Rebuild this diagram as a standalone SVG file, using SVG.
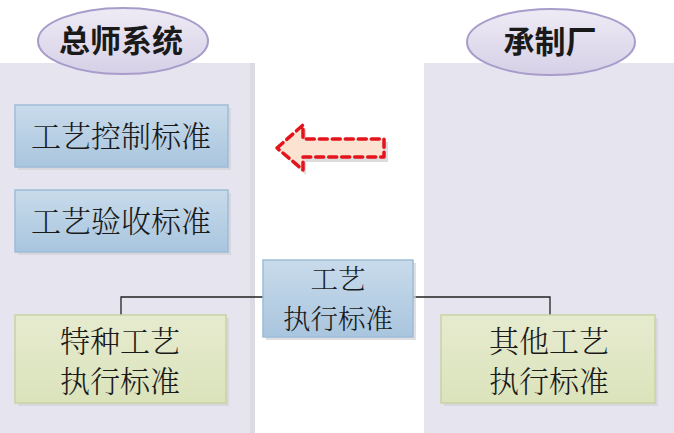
<svg xmlns="http://www.w3.org/2000/svg" width="674" height="433" viewBox="0 0 674 433">
<defs>
<linearGradient id="gBlue" x1="0" y1="0" x2="0" y2="1"><stop offset="0" stop-color="#c8dbeb"/><stop offset="1" stop-color="#a9c5de"/></linearGradient>
<linearGradient id="gGreen" x1="0" y1="0" x2="0" y2="1"><stop offset="0" stop-color="#e6ebcf"/><stop offset="1" stop-color="#dbe3bb"/></linearGradient>
<linearGradient id="gEll" x1="0" y1="0" x2="0" y2="1"><stop offset="0" stop-color="#eeebf5"/><stop offset="1" stop-color="#d6d0e6"/></linearGradient>
<style>
.panel{fill:#e6e4ef}
.pshadow{fill:#dcdae3}
.shadow{fill:#d2d2d6;opacity:0.7}
.blue{fill:url(#gBlue);stroke:#9ebcd8;stroke-width:1.5}
.green{fill:url(#gGreen);stroke:#c8d3a3;stroke-width:1.5}
.ell{fill:url(#gEll);stroke:#a89ccb;stroke-width:2}
.title{font-family:"Noto Sans CJK SC","Liberation Sans",sans-serif;font-weight:bold;font-size:31px;fill:#1a1a1a;text-anchor:middle}
.lbl{font-family:"Noto Serif CJK SC","Liberation Serif","Noto Sans CJK SC",serif;font-weight:300;font-size:30px;fill:#1a1a1a;text-anchor:middle}
.sm{font-size:27.5px}
.conn{fill:none;stroke:#222;stroke-width:1.3}
</style>
</defs>
<g id="panels">
<rect class="pshadow" x="0" y="63" width="255" height="370"/>
<rect class="panel" x="0" y="63" width="250" height="370"/>
<rect class="pshadow" x="424" y="63" width="250" height="370"/>
<rect class="panel" x="424" y="63" width="250" height="370"/>
</g>
<g id="title-left">
<ellipse class="ell" cx="123" cy="41" rx="85" ry="33"/>
<text class="title" x="121" y="52">总师系统</text>
</g>
<g id="title-right">
<ellipse class="ell" cx="551" cy="42" rx="84" ry="33"/>
<text class="title" x="550" y="53">承制厂</text>
</g>
<g id="connectors">
<polyline class="conn" points="263,297 121,297 121,316"/>
<polyline class="conn" points="413,297 550,297 550,316"/>
</g>
<g id="box-control">
<rect class="shadow" x="18" y="108" width="213" height="62"/>
<rect class="blue" x="15" y="105" width="213" height="62"/>
<text class="lbl" x="121" y="147">工艺控制标准</text>
</g>
<g id="box-accept">
<rect class="shadow" x="18" y="193" width="213" height="62"/>
<rect class="blue" x="15" y="190" width="213" height="62"/>
<text class="lbl" x="121" y="232">工艺验收标准</text>
</g>
<g id="box-exec">
<rect class="shadow" x="266" y="263" width="150" height="77"/>
<rect class="blue" x="263" y="260" width="150" height="77"/>
<text class="lbl sm" x="338" y="289">工艺</text>
<text class="lbl sm" x="338" y="329">执行标准</text>
</g>
<g id="box-special">
<rect class="shadow" x="18" y="318" width="211" height="88"/>
<rect class="green" x="15" y="315" width="211" height="88"/>
<text class="lbl" x="120" y="352">特种工艺</text>
<text class="lbl" x="120" y="392">执行标准</text>
</g>
<g id="box-other">
<rect class="shadow" x="444" y="318" width="214" height="88"/>
<rect class="green" x="441" y="315" width="214" height="88"/>
<text class="lbl" x="549" y="352">其他工艺</text>
<text class="lbl" x="549" y="392">执行标准</text>
</g>
<g id="arrow">
<polygon points="280,152 306,129 306,142 388,142 388,162 306,162 306,175" fill="#dcdcdc"/>
<polygon points="277,148 303,125 303,139 384,139 384,157 303,157 303,170" fill="#fbe2d1" stroke="#e3141b" stroke-width="3.5" stroke-dasharray="8,5" stroke-linejoin="round" stroke-linecap="round"/>
</g>
</svg>
